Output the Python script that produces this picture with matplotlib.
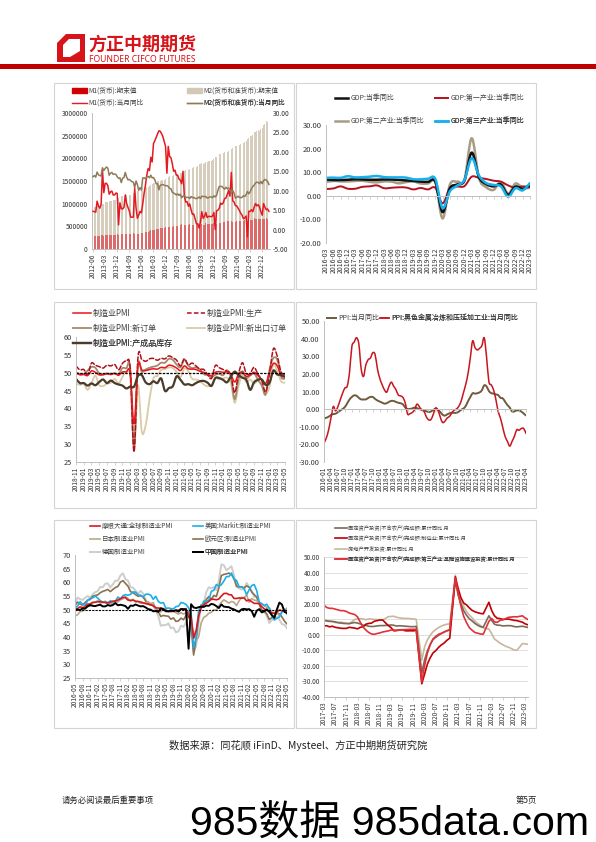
import numpy as np
import pandas as pd
import matplotlib
matplotlib.use("Agg")
import matplotlib.pyplot as plt
from matplotlib.patches import Rectangle, Polygon, Patch, PathPatch
from matplotlib.lines import Line2D
from matplotlib.path import Path

plt.rcParams['font.family'] = ['Noto Sans CJK SC', 'DejaVu Sans']
plt.rcParams['axes.unicode_minus'] = False

W, H = 596, 842

# ---------------- data ----------------
# chart 1: M1 / M2 (千亿元 levels, yoy %), 2012-06 .. 2023-05
m_months = pd.period_range('2012-06', '2023-05', freq='M').strftime('%Y-%m')
m1 = [287, 283, 287, 291, 287, 293, 309,
      312, 296, 310, 307, 308, 314, 307, 311, 313, 312, 319, 337,
      315, 316, 328, 322, 326, 341, 331, 331, 327, 326, 329, 349,
      325, 338, 337, 337, 342, 356, 360, 364, 364, 367, 379, 401,
      411, 410, 419, 424, 431, 443, 448, 454, 455, 458, 468, 487,
      469, 476, 489, 490, 495, 510, 509, 513, 518, 517, 524, 544,
      533, 521, 523, 525, 526, 544, 537, 538, 538, 540, 543, 551,
      545, 527, 547, 538, 539, 568, 553, 557, 557, 555, 558, 577,
      546, 560, 575, 570, 581, 604, 591, 601, 602, 609, 614, 626,
      625, 605, 617, 606, 616, 637, 621, 624, 625, 626, 633, 647,
      613, 627, 645, 637, 645, 674, 661, 664, 665, 662, 672, 672,
      655, 658, 678, 669, 675]
m2 = [925, 927, 936, 944, 936, 947, 974,
      993, 1000, 1036, 1036, 1043, 1055, 1052, 1061, 1078, 1074, 1091, 1107,
      1123, 1132, 1161, 1168, 1182, 1209, 1194, 1197, 1202, 1199, 1211, 1228,
      1243, 1251, 1277, 1280, 1293, 1333, 1353, 1354, 1359, 1360, 1373, 1392,
      1417, 1424, 1446, 1446, 1462, 1490, 1491, 1497, 1516, 1520, 1531, 1550,
      1575, 1582, 1600, 1603, 1607, 1631, 1627, 1640, 1655, 1653, 1672, 1677,
      1724, 1729, 1739, 1738, 1743, 1770, 1778, 1788, 1803, 1795, 1813, 1827,
      1865, 1867, 1889, 1885, 1891, 1921, 1924, 1935, 1952, 1946, 1964, 1987,
      2023, 2031, 2081, 2094, 2100, 2135, 2125, 2137, 2165, 2150, 2172, 2187,
      2213, 2236, 2274, 2262, 2275, 2318, 2302, 2314, 2343, 2336, 2356, 2383,
      2432, 2443, 2499, 2497, 2521, 2582, 2578, 2595, 2627, 2612, 2647, 2664,
      2738, 2755, 2815, 2806, 2821]
m1_yoy = [4.7, 4.6, 4.5, 7.3, 6.1, 5.5, 6.5,
          15.3, 9.5, 11.9, 11.9, 11.3, 9.1, 9.7, 9.9, 8.9, 8.9, 9.4, 9.3,
          1.2, 6.9, 5.4, 5.3, 5.7, 8.9, 6.7, 5.7, 4.8, 3.2, 3.2, 3.2,
          10.6, 5.6, 2.9, 3.7, 4.7, 4.3, 6.6, 9.3, 11.4, 14.0, 15.7, 15.2,
          18.6, 17.4, 22.1, 22.9, 23.7, 24.6, 25.4, 25.3, 24.7, 23.9, 22.7, 21.4,
          14.5, 21.4, 18.8, 18.5, 17.0, 15.0, 15.3, 14.0, 14.0, 13.0, 12.7, 11.8,
          15.0, 8.5, 7.1, 7.2, 6.0, 6.6, 5.1, 3.9, 4.0, 2.7, 1.5, 1.5,
          0.4, 2.0, 4.6, 2.9, 3.4, 4.4, 3.1, 3.4, 3.4, 3.3, 3.5, 4.4,
          0.0, 4.8, 5.0, 5.5, 6.8, 6.5, 6.9, 8.0, 8.1, 9.1, 10.0, 8.6,
          14.7, 7.4, 7.1, 6.2, 6.1, 5.5, 4.9, 4.2, 3.7, 2.8, 3.0, 3.5,
          -1.9, 4.7, 4.7, 5.1, 4.6, 5.8, 6.7, 6.1, 6.4, 5.8, 4.6, 3.7,
          6.7, 5.8, 5.1, 5.3, 4.7]
m2_yoy = [13.6, 13.9, 13.5, 14.8, 14.1, 13.9, 13.8,
          15.9, 15.2, 15.7, 16.1, 15.8, 14.0, 14.5, 14.7, 14.2, 14.3, 14.2, 13.6,
          13.2, 13.3, 12.1, 13.2, 13.4, 14.7, 13.5, 12.8, 12.9, 12.6, 12.3, 12.2,
          10.8, 12.5, 11.6, 10.1, 10.8, 10.2, 13.3, 13.3, 13.1, 13.5, 13.7, 13.3,
          14.0, 13.3, 13.4, 12.8, 11.8, 11.8, 10.2, 11.4, 11.5, 11.6, 11.4, 11.3,
          11.3, 11.1, 10.6, 10.5, 9.6, 9.4, 9.2, 8.9, 9.2, 8.8, 9.1, 8.2,
          8.6, 8.8, 8.2, 8.3, 8.3, 8.0, 8.5, 8.2, 8.3, 8.0, 8.0, 8.1,
          8.4, 8.0, 8.6, 8.5, 8.5, 8.5, 8.1, 8.2, 8.4, 8.4, 8.2, 8.7,
          8.4, 8.8, 10.1, 11.1, 11.1, 11.1, 10.7, 10.4, 10.9, 10.5, 10.7, 10.1,
          9.4, 10.1, 9.4, 8.1, 8.3, 8.6, 8.3, 8.2, 8.3, 8.7, 8.5, 9.0,
          9.8, 9.2, 9.7, 10.5, 11.1, 11.4, 12.0, 12.2, 12.1, 11.8, 12.4, 11.8,
          12.6, 12.9, 12.7, 12.4, 11.6]

# chart 2: GDP quarterly yoy, 2016-03 .. 2023-03
gdp_q = pd.period_range('2016Q1', '2023Q1', freq='Q').strftime('%Y-%m')
gdp = [6.9, 6.7, 6.7, 6.8, 7.0, 6.9, 6.8, 6.8, 6.9, 6.9, 6.7, 6.5, 6.3, 6.0, 5.9, 6.0,
       -6.9, 3.1, 4.8, 6.4, 18.3, 7.9, 4.9, 4.0, 4.8, 0.4, 3.9, 2.9, 4.5]
gdp_1 = [2.9, 3.1, 4.0, 3.0, 3.0, 3.8, 4.0, 4.4, 3.2, 3.4, 3.6, 3.5, 2.7, 3.3, 2.7, 3.4,
         -3.2, 3.3, 3.9, 4.1, 8.1, 7.6, 7.1, 6.4, 6.0, 4.4, 3.4, 4.0, 3.7]
gdp_2 = [5.8, 6.3, 6.1, 6.1, 6.3, 6.4, 5.9, 5.7, 6.1, 6.0, 5.3, 5.8, 6.1, 5.2, 5.2, 5.8,
         -9.6, 4.7, 6.0, 6.8, 24.4, 7.5, 3.6, 2.5, 5.8, 0.9, 5.2, 3.4, 3.3]
gdp_3 = [7.6, 7.7, 7.6, 8.3, 7.8, 7.9, 8.1, 8.4, 7.9, 7.8, 7.8, 7.7, 7.0, 7.0, 7.2, 7.2,
         -5.2, 1.9, 4.3, 6.7, 15.9, 8.6, 5.4, 4.6, 4.0, -0.4, 3.2, 2.3, 5.4]

# chart 3: China manufacturing PMI, 2018-11 .. 2023-05
pmi_months = pd.period_range('2018-11', '2023-05', freq='M').strftime('%Y-%m')
pmi = [50.0, 49.4,
       49.5, 49.2, 50.5, 50.1, 49.4, 49.4, 49.7, 49.5, 49.8, 49.3, 50.2, 50.2,
       50.0, 35.7, 52.0, 50.8, 50.6, 50.9, 51.1, 51.0, 51.5, 51.4, 52.1, 51.9,
       51.3, 50.6, 51.9, 51.1, 51.0, 50.9, 50.4, 50.1, 49.6, 49.2, 50.1, 50.3,
       50.1, 50.2, 49.5, 47.4, 49.6, 50.2, 49.0, 49.4, 50.1, 49.2, 48.0, 47.0,
       50.1, 52.6, 51.9, 49.2, 48.8]
pmi_prod = [51.9, 50.8,
            50.9, 49.5, 52.7, 52.1, 51.7, 51.3, 52.1, 51.9, 52.3, 50.8, 52.6, 53.2,
            51.3, 27.8, 54.1, 53.7, 53.2, 53.9, 54.0, 53.5, 54.0, 53.9, 54.7, 54.2,
            53.5, 51.9, 53.9, 52.2, 52.7, 51.9, 51.0, 50.9, 49.5, 48.4, 52.0, 51.4,
            50.9, 50.4, 49.5, 44.4, 49.7, 52.8, 49.8, 49.8, 51.5, 49.6, 47.8, 44.6,
            49.8, 56.7, 54.6, 50.2, 49.6]
pmi_new = [50.1, 49.7,
           49.6, 50.6, 51.6, 51.4, 49.8, 49.6, 49.8, 49.7, 49.8, 49.6, 51.3, 51.2,
           51.4, 29.3, 52.0, 50.2, 50.9, 51.4, 51.7, 52.0, 52.8, 52.8, 53.9, 53.6,
           52.3, 51.5, 53.6, 52.0, 51.3, 51.5, 50.9, 49.6, 49.3, 48.8, 49.4, 49.7,
           49.3, 50.7, 48.8, 42.6, 48.2, 50.4, 48.5, 49.2, 49.8, 48.1, 46.4, 43.9,
           50.9, 54.1, 53.6, 48.8, 48.3]
pmi_export = [47.0, 46.6,
              46.9, 45.2, 47.1, 49.2, 46.5, 46.3, 46.9, 47.2, 48.2, 47.0, 48.8, 50.3,
              48.7, 28.7, 46.4, 33.5, 35.3, 42.6, 48.4, 49.1, 50.8, 51.0, 51.5, 51.3,
              50.2, 48.8, 51.2, 50.4, 48.3, 48.1, 47.7, 46.7, 46.2, 46.6, 48.5, 48.1,
              48.4, 48.6, 47.2, 41.6, 46.2, 49.5, 47.4, 48.1, 47.0, 47.6, 46.7, 44.2,
              46.1, 52.4, 50.4, 47.6, 47.2]
pmi_stock = [48.3, 47.1,
             47.1, 46.4, 47.0, 46.5, 47.4, 48.1, 47.1, 47.8, 47.1, 46.7, 46.4, 45.6,
             46.1, 46.1, 49.1, 49.3, 47.3, 46.8, 47.6, 47.1, 48.4, 44.9, 45.7, 46.2,
             49.0, 48.0, 46.7, 46.8, 46.5, 47.1, 47.6, 47.7, 47.2, 46.3, 48.5, 48.5,
             48.0, 47.3, 48.9, 50.3, 49.3, 48.6, 48.0, 45.2, 47.3, 48.0, 48.1, 46.6,
             47.2, 50.6, 49.5, 49.4, 48.9]

# chart 4: PPI yoy, 2016-01 .. 2023-04
ppi_months = pd.period_range('2016-01', '2023-04', freq='M').strftime('%Y-%m')
ppi = [-5.3, -4.9, -4.3, -3.4, -2.8, -2.6, -1.7, -0.8, 0.1, 1.2, 3.3, 5.5,
       6.9, 7.8, 7.6, 6.4, 5.5, 5.5, 5.5, 6.3, 6.9, 6.9, 5.8, 4.9,
       4.3, 3.7, 3.1, 3.4, 4.1, 4.7, 4.6, 4.1, 3.6, 3.3, 2.7, 0.9,
       0.1, 0.1, 0.4, 0.9, 0.6, 0.0, -0.3, -0.8, -1.2, -1.6, -1.4, -0.5,
       0.1, -0.4, -1.5, -3.1, -3.7, -3.0, -2.4, -2.0, -2.1, -2.1, -1.5, -0.4,
       0.3, 1.7, 4.4, 6.8, 9.0, 8.8, 9.0, 9.5, 10.7, 13.5, 12.9, 10.3,
       9.1, 8.8, 8.3, 8.0, 6.4, 6.1, 4.2, 2.3, 0.9, -1.3, -1.3, -0.7,
       -0.8, -1.4, -2.5, -3.6]
ppi_steel = [-19.2, -16.4, -11.7, -5.0, 1.5, -1.0, 1.5, 5.3, 9.0, 12.0, 13.0, 21.0,
             35.5, 38.0, 40.5, 37.0, 23.0, 18.5, 25.0, 28.0, 29.0, 32.0, 31.0, 23.0,
             17.5, 14.0, 11.0, 9.6, 13.0, 15.3, 13.0, 11.0, 8.0, 7.5, 6.6, 3.4,
             -2.8, -2.6, -1.9, -0.4, 2.8, 1.5, -0.4, -1.0, -4.2, -6.0, -6.0, -3.2,
             0.6, -0.4, -4.2, -7.5, -7.0, -5.1, -4.2, -2.3, -0.6, 0.0, 1.5, 4.3,
             9.0, 13.8, 20.0, 28.9, 38.7, 35.0, 33.6, 34.5, 36.0, 40.5, 29.8, 15.7,
             13.8, 11.0, 5.7, -1.3, -5.1, -10.4, -15.5, -18.3, -21.0, -18.3, -15.5, -11.7,
             -12.0, -11.0, -11.0, -13.8]

# chart 5: global manufacturing PMI, 2016-05 .. 2023-05
g_months = pd.period_range('2016-05', '2023-05', freq='M').strftime('%Y-%m')
g_global = [50.0, 50.4, 51.0, 50.8, 51.0, 52.0, 52.1, 52.7,
            52.7, 52.9, 52.9, 52.7, 52.6, 52.6, 52.7, 53.1, 53.2, 53.5, 54.0, 54.5,
            54.4, 53.5, 53.4, 53.5, 53.1, 53.0, 52.8, 52.5, 52.2, 52.0, 51.8, 51.5,
            50.7, 50.6, 50.5, 50.4, 49.8, 49.4, 49.3, 49.5, 49.7, 49.8, 50.3, 50.1,
            50.4, 47.2, 47.6, 39.6, 42.4, 47.9, 50.6, 51.8, 52.4, 53.0, 53.8, 53.8,
            53.6, 53.9, 55.0, 55.9, 56.0, 55.5, 55.4, 54.1, 54.1, 54.3, 54.2, 54.3,
            53.2, 53.6, 52.9, 52.3, 52.3, 52.2, 51.1, 50.3, 49.8, 49.4, 48.8, 48.6,
            49.1, 49.9, 49.6, 49.6, 49.6]
g_us = [50.7, 51.3, 52.9, 52.0, 51.5, 53.4, 54.1, 54.3,
        55.0, 54.2, 53.3, 52.8, 52.7, 52.0, 53.3, 52.8, 53.1, 54.6, 53.9, 55.1,
        55.5, 55.3, 55.6, 56.5, 56.4, 55.4, 55.3, 54.7, 55.6, 55.7, 55.3, 53.8,
        54.9, 53.0, 52.4, 52.6, 50.5, 50.6, 50.4, 50.3, 51.1, 51.3, 52.6, 52.4,
        51.9, 50.7, 48.5, 36.1, 39.8, 49.8, 50.9, 53.1, 53.2, 53.4, 56.7, 57.1,
        59.2, 58.6, 59.1, 60.5, 62.1, 62.1, 63.4, 61.1, 60.7, 58.4, 58.3, 57.7,
        55.5, 57.3, 58.8, 59.2, 57.0, 52.7, 52.2, 51.5, 52.0, 50.4, 47.7, 46.2,
        46.9, 47.3, 49.2, 50.2, 48.4]
g_japan = [47.7, 48.1, 49.3, 49.5, 50.4, 51.4, 51.3, 52.4,
           52.7, 53.3, 52.4, 52.7, 53.1, 52.4, 52.1, 52.2, 52.9, 52.8, 53.6, 54.0,
           54.8, 54.1, 53.1, 53.8, 52.8, 53.0, 52.3, 52.5, 52.5, 52.9, 52.2, 52.6,
           50.3, 48.9, 49.2, 50.2, 49.8, 49.3, 49.4, 49.3, 48.9, 48.4, 48.9, 48.4,
           48.8, 47.8, 44.8, 41.9, 38.4, 40.1, 45.2, 47.2, 47.7, 48.7, 49.0, 50.0,
           49.8, 51.4, 52.7, 53.6, 53.0, 52.4, 53.0, 52.7, 51.5, 53.2, 54.5, 54.3,
           55.4, 52.7, 54.1, 53.5, 53.3, 52.7, 52.1, 51.5, 50.8, 50.7, 49.0, 48.9,
           48.9, 47.7, 49.2, 49.5, 50.6]
g_euro = [51.5, 52.8, 52.0, 51.7, 52.6, 53.5, 53.7, 54.9,
          55.2, 55.4, 56.2, 56.7, 57.0, 57.4, 56.6, 57.4, 58.1, 58.5, 60.1, 60.6,
          59.6, 58.6, 56.6, 56.2, 55.5, 54.9, 55.1, 54.6, 53.2, 52.0, 51.8, 51.4,
          50.5, 49.3, 47.5, 47.9, 47.7, 47.6, 46.5, 47.0, 45.7, 45.9, 46.9, 46.3,
          47.9, 49.2, 44.5, 33.4, 39.4, 47.4, 51.8, 51.7, 53.7, 54.8, 53.8, 55.2,
          54.8, 57.9, 62.5, 62.9, 63.1, 63.4, 62.8, 61.4, 58.6, 58.3, 58.4, 58.0,
          58.7, 58.2, 56.5, 55.5, 54.6, 52.1, 49.8, 49.6, 48.4, 46.4, 47.1, 47.8,
          48.8, 48.5, 47.3, 45.8, 44.8]
g_germany = [52.1, 54.5, 53.8, 53.6, 54.3, 55.0, 54.3, 55.6,
             56.4, 56.8, 58.3, 58.2, 59.5, 59.6, 58.1, 59.3, 60.6, 60.6, 62.5, 63.3,
             61.1, 60.6, 58.2, 58.1, 56.9, 55.9, 56.9, 55.9, 53.7, 52.2, 51.8, 51.5,
             49.7, 47.6, 44.1, 44.4, 44.3, 45.0, 43.2, 43.5, 41.7, 42.1, 44.1, 43.7,
             45.3, 48.0, 45.4, 34.5, 36.6, 45.2, 51.0, 52.2, 56.4, 58.2, 57.8, 58.3,
             57.1, 60.7, 66.6, 66.2, 64.4, 65.1, 65.9, 62.6, 58.4, 57.8, 57.4, 57.4,
             59.8, 58.4, 56.9, 54.6, 54.8, 52.0, 49.3, 49.1, 47.8, 45.1, 46.2, 47.1,
             47.3, 46.3, 44.7, 44.5, 43.2]
g_china = [50.1, 50.0, 49.9, 50.4, 50.4, 51.2, 51.7, 51.4,
           51.3, 51.6, 51.8, 51.2, 51.2, 51.7, 51.4, 51.7, 52.4, 51.6, 51.8, 51.6,
           51.3, 50.3, 51.5, 51.4, 51.9, 51.5, 51.2, 51.3, 50.8, 50.2, 50.0, 49.4,
           49.5, 49.2, 50.5, 50.1, 49.4, 49.4, 49.7, 49.5, 49.8, 49.3, 50.2, 50.2,
           50.0, 35.7, 52.0, 50.8, 50.6, 50.9, 51.1, 51.0, 51.5, 51.4, 52.1, 51.9,
           51.3, 50.6, 51.9, 51.1, 51.0, 50.9, 50.4, 50.1, 49.6, 49.2, 50.1, 50.3,
           50.1, 50.2, 49.5, 47.4, 49.6, 50.2, 49.0, 49.4, 50.1, 49.2, 48.0, 47.0,
           50.1, 52.6, 51.9, 49.2, 48.8]

# chart 6: fixed asset investment, cumulative yoy (no January prints)
fai_all = pd.period_range('2017-03', '2023-04', freq='M')
fai_total = [9.2, 8.9, 8.6, 8.6, 8.3, 7.8, 7.5, 7.3, 7.2, 7.2,
             7.9, 7.5, 7.0, 6.1, 6.0, 5.5, 5.3, 5.4, 5.7, 5.9, 5.9,
             6.1, 6.3, 6.1, 5.6, 5.8, 5.7, 5.5, 5.4, 5.2, 5.2, 5.4,
             -24.5, -16.1, -10.3, -6.3, -3.1, -1.6, -0.3, 0.8, 1.8, 2.6, 2.9,
             35.0, 25.6, 19.9, 15.4, 12.6, 10.3, 8.9, 7.3, 6.1, 5.2, 4.9,
             12.2, 9.3, 6.8, 6.2, 6.1, 5.7, 5.8, 5.9, 5.8, 5.3, 5.1,
             5.5, 5.1, 4.7]
fai_mfg = [5.8, 5.8, 5.1, 5.5, 4.8, 4.5, 4.2, 4.1, 4.1, 4.8,
           4.3, 3.8, 4.8, 5.2, 6.8, 7.3, 7.5, 8.7, 9.1, 9.5, 9.5,
           5.9, 4.6, 2.5, 2.7, 3.0, 3.3, 2.6, 2.5, 2.6, 2.5, 3.1,
           -31.5, -25.2, -18.8, -14.8, -11.7, -10.2, -8.1, -6.5, -5.3, -3.5, -2.2,
           37.3, 29.8, 23.8, 20.4, 19.2, 17.3, 15.7, 14.8, 14.2, 13.7, 13.5,
           20.9, 15.6, 12.2, 10.6, 10.4, 9.9, 10.0, 10.1, 9.7, 9.3, 9.1,
           8.1, 7.0, 6.4]
fai_estate = [9.1, 9.3, 8.8, 8.5, 7.9, 7.9, 8.1, 7.8, 7.5, 7.0,
              9.9, 10.4, 10.3, 10.2, 9.7, 10.2, 10.1, 9.9, 9.7, 9.7, 9.5,
              11.6, 11.8, 11.9, 11.2, 10.9, 10.6, 10.5, 10.5, 10.3, 10.2, 9.9,
              -16.3, -7.7, -3.3, -0.3, 1.9, 3.4, 4.6, 5.6, 6.3, 6.8, 7.0,
              38.3, 25.6, 21.6, 18.3, 15.0, 12.7, 10.9, 8.8, 7.2, 6.0, 4.4,
              3.7, 0.7, -2.7, -4.0, -5.4, -6.4, -7.4, -8.0, -8.8, -9.8, -10.0,
              -5.7, -5.8, -6.2]
fai_infra = [19.0, 17.5, 17.0, 17.0, 16.5, 16.0, 15.5, 15.5, 15.0, 14.0,
             13.0, 11.5, 8.0, 5.0, 3.0, 1.5, 0.5, 0.3, 0.8, 1.2, 1.8,
             2.5, 3.0, 3.0, 3.0, 3.0, 3.2, 3.3, 3.4, 3.5, 3.5, 3.5,
             -30.3, -19.7, -11.8, -6.3, -2.7, -1.0, 0.3, 0.9, 1.8, 2.6, 3.4,
             36.6, 26.8, 18.4, 11.8, 7.8, 4.6, 2.9, 1.5, 1.0, 0.5, 0.4,
             8.6, 10.5, 8.3, 8.0, 9.3, 9.6, 10.4, 11.2, 11.4, 11.6, 11.5,
             12.2, 10.8, 9.8]

fig = plt.figure(figsize=(W / 100, H / 100), dpi=100)
TXT = '#333333'
AXC = '#BFBFBF'


def rect(x0, y0, x1, y1):
    return [x0 / W, 1 - y1 / H, (x1 - x0) / W, (y1 - y0) / H]


def base(ax, fs=5):
    for s in ['top', 'right']:
        ax.spines[s].set_visible(False)
    for s in ['left', 'bottom']:
        ax.spines[s].set_color(AXC)
        ax.spines[s].set_linewidth(0.7)
    ax.tick_params(labelsize=fs, labelcolor=TXT, color=AXC, width=0.5, length=2)
    ax.tick_params(axis='y', length=0, pad=3)
    ax.set_facecolor('none')


def key(ax, handle, label, x, y, fs, hl=2.0):
    leg = ax.legend([handle], [label], loc='center left',
                    bbox_to_anchor=(x / W, 1 - y / H), bbox_transform=fig.transFigure,
                    frameon=False, fontsize=fs, handlelength=hl, handletextpad=0.3,
                    borderpad=0, borderaxespad=0, labelcolor='#404040')
    ax.add_artist(leg)


def smooth(ax, x, y, color, lw, ls='-'):
    # smooth curve through the points, like Excel's smoothed lines
    x = np.asarray(x, float)
    y = np.asarray(y, float)
    n = len(x)
    verts = [(x[0], y[0])]
    codes = [Path.MOVETO]
    for i in range(n - 1):
        a, b = max(i - 1, 0), min(i + 2, n - 1)
        c1 = (x[i] + (x[i + 1] - x[a]) / 6, y[i] + (y[i + 1] - y[a]) / 6)
        c2 = (x[i + 1] - (x[b] - x[i]) / 6, y[i + 1] - (y[b] - y[i]) / 6)
        verts += [c1, c2, (x[i + 1], y[i + 1])]
        codes += [Path.CURVE4] * 3
    ax.add_patch(PathPatch(Path(verts, codes), fill=False, edgecolor=color,
                           lw=lw, ls=ls, capstyle='round', joinstyle='round'))
    return Line2D([], [], color=color, lw=lw, ls=ls)


def zero_axis(ax, idx, labels, fs):
    ax.spines['bottom'].set_position(('data', 0))
    ax.tick_params(axis='x', labelbottom=False, length=2, direction='out')
    ax.set_xticks(idx)
    sec = ax.secondary_xaxis(0)
    sec.set_xticks(idx, labels=labels, rotation=90, fontsize=fs, color=TXT)
    sec.tick_params(length=0, pad=3)
    sec.spines['bottom'].set_visible(False)


# ---------------- header / page ----------------
fig.add_artist(Polygon([(57 / W, 1 - 43 / H), (66 / W, 1 - 34 / H), (85 / W, 1 - 34 / H),
                        (85 / W, 1 - 62 / H), (57 / W, 1 - 62 / H)],
                       closed=True, transform=fig.transFigure, color='#D7141A', lw=0))
fig.add_artist(Polygon([(63 / W, 1 - 45 / H), (69 / W, 1 - 39 / H), (80 / W, 1 - 39 / H),
                        (80 / W, 1 - 51 / H), (70 / W, 1 - 57 / H), (63 / W, 1 - 57 / H)],
                       closed=True, transform=fig.transFigure, color='white', lw=0))
fig.text(88 / W, 1 - 44 / H, '方正中期期货', fontsize=13, fontweight='bold', color='#D7141A',
         va='center', ha='left')
fig.text(89 / W, 1 - 59 / H, 'FOUNDER CIFCO FUTURES', fontsize=6.2, fontweight='bold',
         color='#D7141A', va='center', ha='left', family=['Noto Sans', 'DejaVu Sans'])
fig.add_artist(Rectangle((0, 1 - 68.5 / H), 1, 4 / H, transform=fig.transFigure,
                         color='#C00000', lw=0))

for (x0, y0, x1, y1) in [(54, 83, 294, 289), (296, 83, 536, 289),
                         (54, 302, 294, 508), (296, 302, 536, 508),
                         (54, 520, 294, 728), (296, 520, 536, 728)]:
    fig.add_artist(Rectangle((x0 / W, 1 - y1 / H), (x1 - x0) / W, (y1 - y0) / H,
                             transform=fig.transFigure, fill=False, edgecolor='#D4D4D4', lw=0.8))

fig.text(298 / W, 1 - 745 / H, '数据来源：同花顺 iFinD、Mysteel、方正中期期货研究院',
         fontsize=7.4, color='#222222', ha='center', va='center')
fig.text(62 / W, 1 - 800 / H, '请务必阅读最后重要事项', fontsize=6, color='#222222',
         ha='left', va='center')
fig.text(537 / W, 1 - 800 / H, '第5页', fontsize=6, color='#222222', ha='right', va='center')
fig.text(190 / W, 1 - 824 / H, '985数据 985data.com', fontsize=29.5, color='black',
         ha='left', va='center', family=['Liberation Sans', 'Noto Sans CJK SC'])

# ---------------- chart 1: M1 / M2 ----------------
ax = fig.add_axes(rect(92, 113, 270, 249))
base(ax, 4.8)
xm = np.arange(len(m_months))
ax.bar(xm, np.array(m2) * 1000, width=0.6, color='#D7CDBD', lw=0)
ax.bar(xm, np.array(m1) * 1000, width=0.6, color='#DC6A6A', lw=0)
ax.set_xlim(-0.8, len(xm) - 0.2)
ax.set_ylim(0, 3000000)
ax.set_yticks(np.arange(0, 3000001, 500000), labels=[f'{v:d}' for v in range(0, 3000001, 500000)])
ax.set_xticks(xm[::9], labels=m_months[::9], rotation=90)
ax.tick_params(axis='x', pad=1.5)
ax2 = ax.twinx()
for s in ax2.spines.values():
    s.set_visible(False)
ax2.plot(xm, m1_yoy, color='#E5191F', lw=1.1)
ax2.plot(xm, m2_yoy, color='#8E7A58', lw=1.1)
ax2.set_ylim(-5, 30)
ax2.set_yticks(np.arange(-5, 31, 5), labels=[f'{v:.2f}' for v in range(-5, 31, 5)])
ax2.tick_params(labelsize=4.8, labelcolor=TXT, length=0, pad=2)
key(ax, Patch(color='#D00000'), 'M1(货币):期末值', 72, 91, 4.8, 2.2)
key(ax, Patch(color='#D3C8B6'), 'M2(货币和准货币):期末值', 187, 91, 4.8, 2.2)
key(ax, Line2D([], [], color='#E5191F', lw=1), 'M1(货币):当月同比', 72, 103, 4.8, 2.2)
key(ax, Line2D([], [], color='#8E7A58', lw=1), 'M2(货币和准货币):当月同比', 187, 103, 4.8, 2.2)

# ---------------- chart 2: GDP ----------------
ax = fig.add_axes(rect(326, 125, 530, 243))
base(ax, 5.5)
xq = np.arange(len(gdp_q))
h2 = smooth(ax, xq, gdp_2, '#A99C85', 1.8)
h1 = smooth(ax, xq, gdp_1, '#B3121E', 1.4)
h0 = smooth(ax, xq, gdp, '#111111', 1.8)
h3 = smooth(ax, xq, gdp_3, '#14B1EE', 1.8)
ax.set_xlim(0, len(xq) - 1)
ax.set_ylim(-20, 30)
ax.set_yticks(np.arange(-20, 31, 10), labels=[f'{v:.2f}' for v in range(-20, 31, 10)])
zero_axis(ax, xq, gdp_q, 5)
key(ax, h0, 'GDP:当季同比', 335, 98, 5, 1.9)
key(ax, h1, 'GDP:第一产业:当季同比', 435, 98, 5, 1.9)
key(ax, h2, 'GDP:第二产业:当季同比', 335, 121, 5, 1.9)
key(ax, h3, 'GDP:第三产业:当季同比', 435, 121, 5, 1.9)

# ---------------- chart 3: PMI ----------------
ax = fig.add_axes(rect(76, 337, 285, 462))
base(ax, 5.3)
xp = np.arange(len(pmi_months))
hp3 = smooth(ax, xp, pmi_export, '#D9CBA6', 1.3)
hp2 = smooth(ax, xp, pmi_new, '#A48A6C', 1.3)
hp1 = smooth(ax, xp, pmi_prod, '#B0101A', 1.1, (0, (3, 1.5)))
hp0 = smooth(ax, xp, pmi, '#E8151C', 1.1)
hp4 = smooth(ax, xp, pmi_stock, '#4A3B2A', 1.6)
ax.axhline(50, color='black', lw=0.9, ls=(0, (2, 1)))
ax.set_xlim(0, len(xp) - 1)
ax.set_ylim(25, 60)
ax.set_yticks(np.arange(25, 61, 5))
ax.set_xticks(xp[::2], labels=pmi_months[::2], rotation=90)
ax.tick_params(axis='x', labelsize=4.8, pad=1.5)
key(ax, hp0, '制造业PMI', 73, 313, 5.8, 2.2)
key(ax, hp1, '制造业PMI:生产', 187, 313, 5.8, 2.2)
key(ax, hp2, '制造业PMI:新订单', 73, 328, 5.8, 2.2)
key(ax, hp3, '制造业PMI:新出口订单', 187, 328, 5.8, 2.2)
key(ax, hp4, '制造业PMI:产成品库存', 73, 343, 5.8, 2.2)

# ---------------- chart 4: PPI ----------------
ax = fig.add_axes(rect(324, 321, 526, 462))
base(ax, 5.3)
xr = np.arange(len(ppi_months))
hr0 = smooth(ax, xr, ppi, '#6E5B3E', 1.4)
hr1 = smooth(ax, xr, ppi_steel, '#C8151E', 1.1)
ax.set_xlim(0, len(xr) - 1)
ax.set_ylim(-30, 50)
ax.set_yticks(np.arange(-30, 51, 10), labels=[f'{v:.2f}' for v in range(-30, 51, 10)])
zero_axis(ax, xr[::3], ppi_months[::3], 4.8)
key(ax, hr0, 'PPI:当月同比', 327, 318, 5, 1.3)
key(ax, hr1, 'PPI:黑色金属冶炼和压延加工业:当月同比', 380, 318, 5, 1.3)

# ---------------- chart 5: global PMI ----------------
ax = fig.add_axes(rect(75, 555, 287, 678))
base(ax, 5.3)
xg = np.arange(len(g_months))
ax.plot(xg, g_germany, color='#CDCDCD', lw=1.4)
ax.plot(xg, g_euro, color='#8C7050', lw=1.2)
ax.plot(xg, g_japan, color='#B9A888', lw=1.2)
ax.plot(xg, g_us, color='#1AAFEA', lw=1.2)
ax.plot(xg, g_global, color='#D7191F', lw=1.2)
ax.plot(xg, g_china, color='black', lw=1.4)
ax.axhline(50, color='black', lw=0.8, ls=(0, (2, 1)))
ax.set_xlim(0, len(xg) - 1)
ax.set_ylim(25, 70)
ax.set_yticks(np.arange(25, 71, 5))
ax.set_xticks(xg[::3], labels=g_months[::3], rotation=90)
ax.tick_params(axis='x', labelsize=4.8, pad=1.5)
key(ax, Line2D([], [], color='#D7191F', lw=1.2), '摩根大通:全球制造业PMI', 90, 526, 4.7, 1.5)
key(ax, Line2D([], [], color='#1AAFEA', lw=1.2), '美国:Markit:制造业PMI', 193, 526, 4.7, 1.5)
key(ax, Line2D([], [], color='#B9A888', lw=1.2), '日本制造业PMI', 90, 539, 4.7, 1.5)
key(ax, Line2D([], [], color='#8C7050', lw=1.2), '欧元区:制造业PMI', 193, 539, 4.7, 1.5)
key(ax, Line2D([], [], color='#CDCDCD', lw=1.4), '德国制造业PMI', 90, 552, 4.7, 1.5)
key(ax, Line2D([], [], color='black', lw=1.4), '中国制造业PMI', 193, 552, 4.7, 1.5)

# ---------------- chart 6: FAI ----------------
ax = fig.add_axes(rect(324, 557, 528, 697))
base(ax, 4.6)
xf = [i for i, p in enumerate(fai_all) if p.month != 1]
ax.grid(axis='y', color='#D9D9D9', lw=0.6)
ax.set_axisbelow(True)
ax.plot(xf, fai_estate, color='#C7B79C', lw=1.2)
ax.plot(xf, fai_total, color='#7A6A57', lw=1.2)
ax.plot(xf, fai_mfg, color='#C00000', lw=1.2)
ax.plot(xf, fai_infra, color='#E2303B', lw=1.2)
ax.set_xlim(0, len(fai_all) - 1)
ax.set_ylim(-40, 50)
ax.set_yticks(np.arange(-40, 51, 10), labels=[f'{v:.2f}' for v in range(-40, 51, 10)])
ax.set_xticks(np.arange(len(fai_all))[::4], labels=fai_all[::4].strftime('%Y-%m'), rotation=90)
ax.tick_params(axis='x', labelsize=4.6, pad=1.5)
key(ax, Line2D([], [], color='#7A6A57', lw=1.2), '固定资产投资(不含农户)完成额:累计同比 月', 335, 528, 3.8, 2.2)
key(ax, Line2D([], [], color='#C00000', lw=1.2), '固定资产投资(不含农户)完成额:制造业:累计同比 月', 335, 538, 3.8, 2.2)
key(ax, Line2D([], [], color='#C7B79C', lw=1.2), '房地产开发投资:累计同比 月', 335, 549, 3.8, 2.2)
key(ax, Line2D([], [], color='#E2303B', lw=1.2),
    '固定资产投资(不含农户)完成额:第三产业:基础设施建设投资:累计同比 月', 335, 559, 3.8, 2.2)

fig.savefig('out.png', dpi=100)
